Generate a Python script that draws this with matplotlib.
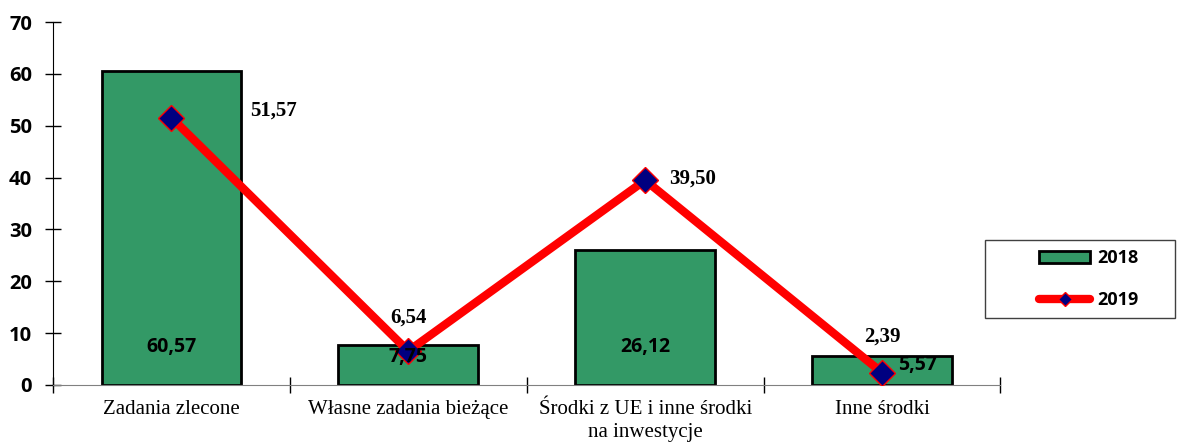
import matplotlib
matplotlib.use("Agg")
import matplotlib.pyplot as plt
from matplotlib.lines import Line2D
from matplotlib.patches import Patch, Rectangle
import numpy as np

categories = ["Zadania zlecone", "Własne zadania bieżące", "Środki z UE i inne środki\nna inwestycje", "Inne środki"]
values_2018 = [60.57, 7.75, 26.12, 5.57]
values_2019 = [51.57, 6.54, 39.50, 2.39]
labels_2018 = ["60,57", "7,75", "26,12", "5,57"]
labels_2019 = ["51,57", "6,54", "39,50", "2,39"]
series_names = ["2018", "2019"]
yticks = [0, 10, 20, 30, 40, 50, 60, 70]

fig = plt.figure(figsize=(11.77, 4.43), dpi=100)
ax = fig.add_axes([0.045, 0.131, 0.805, 0.819])

x = np.arange(len(categories))
bar_color = "#339966"
line_color = "#ff0000"
marker_color = "#000080"
ax.bar(x, values_2018, width=0.59, color=bar_color, edgecolor="black", linewidth=2, zorder=2)
ax.plot(x, values_2019, color=line_color, linewidth=6, marker="D", markersize=13,
        markerfacecolor=marker_color, markeredgecolor=line_color, markeredgewidth=1, zorder=3,
        solid_capstyle="round")

ax.set_xlim(-0.5, len(categories) - 0.5)
ax.set_ylim(0, 70)
ax.set_yticks(yticks)
ax.set_yticklabels([str(v) for v in yticks], fontfamily="Open Sans", fontweight="bold", fontsize=14.5)
ax.tick_params(axis="y", direction="inout", length=12, width=1, pad=9, colors="#000000")
ax.set_xticks(np.arange(-0.5, len(categories), 1.0))
ax.set_xticklabels([])
ax.tick_params(axis="x", direction="inout", length=12, width=1, color="#000000")
ax.set_xticks(x, minor=True)
ax.set_xticklabels(categories, minor=True, fontfamily="Liberation Serif", fontsize=15, linespacing=1.3)
ax.tick_params(axis="x", which="minor", length=0, pad=11)

for s in ["top", "right"]:
    ax.spines[s].set_visible(False)
ax.spines["left"].set_color("#000000")
ax.spines["bottom"].set_color("#808080")

# bar labels (sans bold)
bar_offsets = [(0, 7.3), (0, 5.4), (0, 7.3), (0.15, 3.8)]
for xi, lab, (dx, yy) in zip(x, labels_2018, bar_offsets):
    ax.text(xi + dx, yy, lab, ha="center", va="center", fontfamily="Open Sans",
            fontweight="bold", fontsize=14, zorder=4)

# line labels (serif bold)
line_offsets = [(0.43, 1.4), (0, 6.5), (0.2, 0.3), (0, 6.9)]
for xi, v, lab, (dx, dy) in zip(x, values_2019, labels_2019, line_offsets):
    ax.text(xi + dx, v + dy, lab, ha="center", va="center", fontfamily="Liberation Serif",
            fontweight="bold", fontsize=15, zorder=4)

# legend box
W, H = 1177, 443
fig.patches.append(Rectangle((985 / W, 1 - 318 / H), 190 / W, 78 / H, transform=fig.transFigure,
                             facecolor="white", edgecolor="#404040", linewidth=1))
handles = [Patch(facecolor=bar_color, edgecolor="black", linewidth=2),
           Line2D([], [], color=line_color, linewidth=6, marker="D", markersize=7,
                  markerfacecolor=marker_color, markeredgecolor=line_color, markeredgewidth=1,
                  solid_capstyle="round")]
leg = fig.legend(handles, series_names, loc="center", bbox_to_anchor=(1089 / W, 1 - 279 / H),
                 prop={"family": "Open Sans", "weight": "bold", "size": 13},
                 frameon=False, labelspacing=1.3, handlelength=2.8, handleheight=0.6,
                 handletextpad=0.4)

fig.savefig("out.png", dpi=100)
